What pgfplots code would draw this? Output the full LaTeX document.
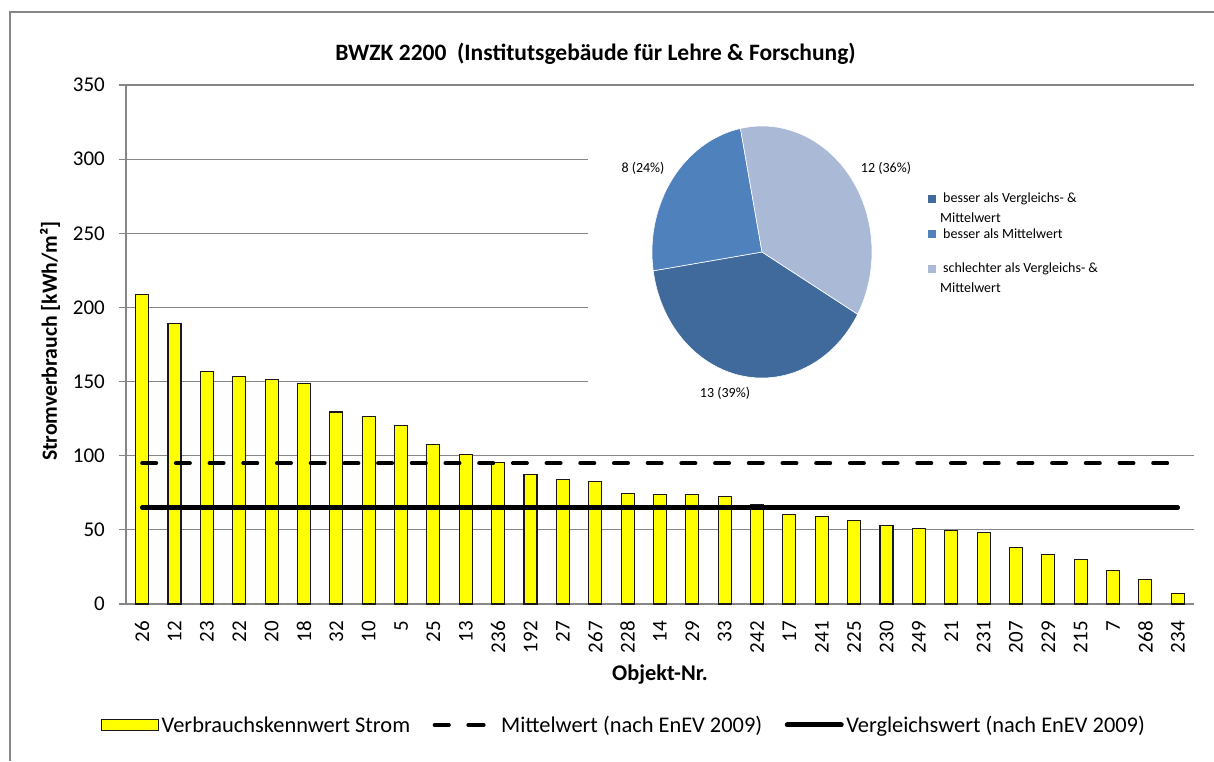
\documentclass[border=0pt]{standalone}
\usepackage{pgfplots}
\pgfplotsset{compat=1.18}
\usepackage{pgfplotstable}
\usepackage{fontspec}
\setmainfont{Carlito}
\definecolor{gridgray}{RGB}{134,134,134}
\definecolor{piedark}{RGB}{64,106,155}
\definecolor{piemid}{RGB}{79,129,189}
\definecolor{pielight}{RGB}{170,185,214}
\definecolor{baryellow}{RGB}{255,255,0}

\pgfplotstableread{
idx label value
0 26 209
1 12 189
2 23 157
3 22 153.5
4 20 151.5
5 18 149
6 32 129.5
7 10 126.5
8 5 120.5
9 25 107.5
10 13 101
11 236 95.5
12 192 87.3
13 27 83.7
14 267 82.4
15 228 74.8
16 14 74
17 29 73.6
18 33 72.3
19 242 67.3
20 17 60.4
21 241 59.3
22 225 56.1
23 230 53
24 249 51
25 21 49.4
26 231 48.3
27 207 38.4
28 229 33.5
29 215 30.3
30 7 22.6
31 268 16.8
32 234 6.9
}\datatable

\pgfplotstableread{
idx value
0 95
32 95
}\meantable

\pgfplotstableread{
idx value
0 65
32 65
}\reftable

% pie data
\def\pA{13}\def\pB{8}\def\pC{12}
\pgfmathsetmacro{\pTot}{\pA+\pB+\pC}
\pgfmathsetmacro{\aA}{-29.6}
\pgfmathsetmacro{\aB}{\aA-360*\pA/\pTot}
\pgfmathsetmacro{\aC}{\aB-360*\pB/\pTot}
\pgfmathsetmacro{\aD}{\aC-360*\pC/\pTot}

\newcommand{\fs}[1]{\fontsize{#1}{#1}\selectfont}

\begin{document}
\begin{tikzpicture}
\useasboundingbox (0,0) rectangle (1214pt,-761pt);
\fill[white] (0,0) rectangle (1214pt,-761pt);
\draw[gridgray, line width=1.3pt] (10pt,-761pt) -- (10pt,-12pt) -- (1214pt,-12pt);

\begin{axis}[
  at={(126pt,-604pt)}, anchor=south west,
  width=1068pt, height=519pt, scale only axis,
  xmin=-0.5, xmax=32.5, ymin=0, ymax=350,
  axis x line*=bottom, axis y line*=left,
  axis line style={gridgray, line width=1.2pt, -},
  ytick={0,50,...,350},
  ymajorgrids, grid style={gridgray, line width=1.2pt},
  xtick={0,...,32},
  xticklabels from table={\datatable}{label},
  x tick style={draw=none},
  minor xtick={-0.5,0.5,...,32.5},
  minor x tick style={gridgray, line width=1.2pt},
  minor tick length=7pt,
  y tick style={gridgray, line width=1.2pt},
  major tick length=7pt,
  tick align=outside,
  /pgf/number format/assume math mode=true,
  yticklabel style={font=\fs{21}, anchor=east, inner sep=0pt, xshift=-14pt},
  xticklabel style={font=\fs{21}, yshift=-10pt, rotate=90, anchor=east, inner sep=0pt},
  legend style={draw=none, fill=none, font=\fs{22.4}, legend columns=3,
    at={(axis description cs:-0.0234,-0.2331)}, anchor=west,
    inner sep=0pt, outer sep=0pt,
    /tikz/every even column/.append style={column sep=20pt},
    nodes={inner sep=2.5pt, anchor=west}},
  clip=false,
]
\addplot[ybar, bar width=13pt, fill=baryellow, draw=black!90, line width=1.1pt,
  legend image code/.code={\draw[fill=baryellow, draw=black!90, line width=1.2pt] (0pt,-5.5pt) rectangle (57pt,5.5pt);}]
  table[x=idx, y=value] {\datatable};
\addlegendentry{Verbrauchskennwert Strom}
\addplot[sharp plot, black, line width=4pt, line cap=round, dash pattern=on 14pt off 19.7pt, dash phase=0pt,
  legend image code/.code={\draw[black, line width=4pt, line cap=round, solid] (2pt,0pt) -- (14pt,0pt) (37pt,0pt) -- (49pt,0pt); \path (0pt,0pt) -- (62pt,0pt);}]
  table[x=idx, y=value] {\meantable};
\addlegendentry{Mittelwert (nach EnEV 2009)}
\addplot[sharp plot, black, line width=4.5pt, line cap=round,
  legend image code/.code={\draw[black, line width=5pt, line cap=round] (2pt,0pt) -- (56pt,0pt);}]
  table[x=idx, y=value] {\reftable};
\addlegendentry{Vergleichswert (nach EnEV 2009)}
\end{axis}

% white background of inserted pie object
\fill[white] (588pt,-100pt) rectangle (1200pt,-420pt);

\begin{axis}[
  at={(762pt,-252pt)}, anchor=center,
  width=220pt, height=252pt, scale only axis,
  xmin=-1, xmax=1, ymin=-1, ymax=1,
  hide axis, clip=false,
]
\addplot[draw=none, forget plot] coordinates {(0,0)};
\fill[piedark, draw=white, line width=0.6pt] (axis cs:0,0) -- ++(\aA:110pt and 126pt) arc[start angle=\aA, end angle=\aB, x radius=110pt, y radius=126pt] -- cycle;
\fill[piemid, draw=white, line width=0.6pt] (axis cs:0,0) -- ++(\aB:110pt and 126pt) arc[start angle=\aB, end angle=\aC, x radius=110pt, y radius=126pt] -- cycle;
\fill[pielight, draw=white, line width=0.6pt] (axis cs:0,0) -- ++(\aC:110pt and 126pt) arc[start angle=\aC, end angle=\aD, x radius=110pt, y radius=126pt] -- cycle;
\end{axis}

% pie labels
\node[font=\fs{14}, anchor=center] at (643pt,-168pt) {8 (24\%)};
\node[font=\fs{14}, anchor=center] at (886pt,-168pt) {12 (36\%)};
\node[font=\fs{14}, anchor=center] at (725pt,-393pt) {13 (39\%)};

% pie legend
\fill[piedark] (928pt,-195pt) rectangle (936pt,-203pt);
\fill[piemid] (928pt,-230pt) rectangle (936pt,-238pt);
\fill[pielight] (928pt,-265pt) rectangle (936pt,-273pt);
\node[font=\fs{14}, anchor=west, inner sep=0pt] at (943pt,-199pt) {besser als Vergleichs- \&};
\node[font=\fs{14}, anchor=west, inner sep=0pt] at (940pt,-218pt) {Mittelwert};
\node[font=\fs{14}, anchor=west, inner sep=0pt] at (943pt,-234pt) {besser als Mittelwert};
\node[font=\fs{14}, anchor=west, inner sep=0pt] at (943pt,-269pt) {schlechter als Vergleichs- \&};
\node[font=\fs{14}, anchor=west, inner sep=0pt] at (940pt,-288pt) {Mittelwert};

% titles
\node[font=\fs{23.5}\bfseries] at (595.5pt,-54pt) {BWZK 2200\ \ (Institutsgebäude für Lehre \& Forschung)};
\node[font=\fs{21.7}\bfseries, rotate=90] at (50pt,-341pt) {Stromverbrauch [kWh/m²]};
\node[font=\fs{22.4}\bfseries] at (660pt,-675pt) {Objekt-Nr.};
\end{tikzpicture}
\end{document}
